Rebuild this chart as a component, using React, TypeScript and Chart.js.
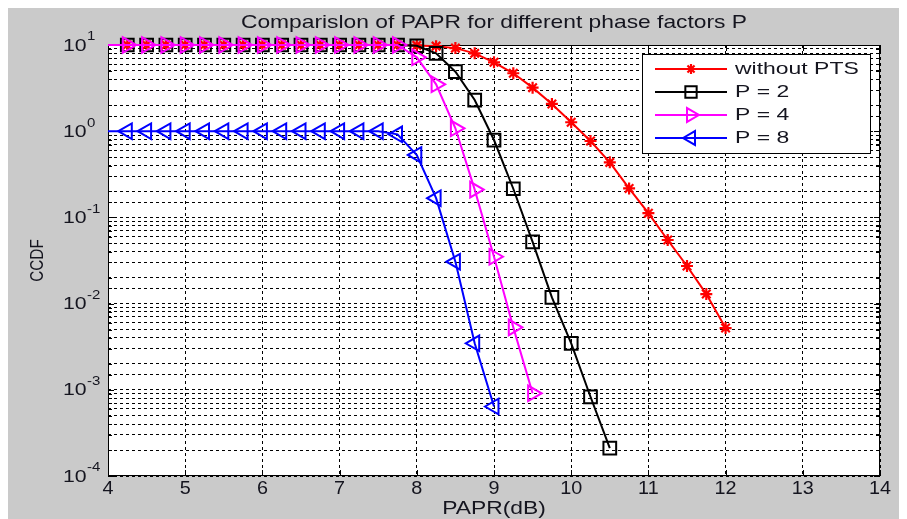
import React, { useEffect, useRef } from 'react';
import { Chart, registerables } from 'chart.js';
import { drawPoint } from 'chart.js/helpers';

Chart.register(...registerables);

// ---- data ----
const paprDb = [3.75, 4.25, 4.5, 4.75, 5, 5.25, 5.5, 5.75, 6, 6.25, 6.5, 6.75, 7, 7.25, 7.5, 7.75, 8, 8.25, 8.5, 8.75, 9, 9.25, 9.5, 9.75, 10, 10.25, 10.5, 10.75, 11, 11.25, 11.5, 11.75, 12];

const ccdfWithoutPts = [10, 10, 10, 10, 10, 10, 10, 10, 10, 10, 10, 10, 10, 10, 10, 10, 9.9, 9.7, 9.2, 8.0, 6.3, 4.7, 3.2, 2.07, 1.27, 0.77, 0.435, 0.217, 0.112, 0.0547, 0.0273, 0.0129, 0.0052];
const ccdfP2 = [10, 10, 10, 10, 10, 10, 10, 10, 10, 10, 10, 10, 10, 10, 10, 10, 9.8, 8.0, 4.9, 2.3, 0.79, 0.215, 0.052, 0.0118, 0.00346, 0.00083, 0.00021];
const ccdfP4 = [10, 10, 10, 10, 10, 10, 10, 10, 10, 10, 10, 10, 10, 10, 10, 10, 7.2, 3.5, 1.08, 0.21, 0.035, 0.0053, 0.00091];
const ccdfP8 = [1, 1, 1, 1, 1, 1, 1, 1, 1, 1, 1, 1, 1, 1, 1, 0.92, 0.53, 0.167, 0.0306, 0.00346, 0.00064];

const seriesLabels = ['without PTS', 'P = 2', 'P = 4', 'P = 8'];
const xTickValues = [4, 5, 6, 7, 8, 9, 10, 11, 12, 13, 14];
const yDecadeValues = [10, 1, 0.1, 0.01, 0.001, 0.0001];
const yDecadeExponents = ['1', '0', '-1', '-2', '-3', '-4'];

const titleText = 'Comparislon of PAPR for different phase factors P';
const xTitle = 'PAPR(dB)';
const yTitle = 'CCDF';

// ---- styles ----
const FONT = '"Liberation Sans", Arial, sans-serif';
const TEXT_COLOR = '#15151f';
const FIG_BG = '#cacaca';

const styles = [
  { color: '#ff0000', pointStyle: 'star', radius: 6, rotation: 0, fill: '#ff0000', legendRadius: 5, pbw: 2.2 },
  { color: '#000000', pointStyle: 'rect', radius: 9, rotation: 0, fill: 'rgba(0,0,0,0)', legendRadius: 8, pbw: 2 },
  { color: '#ff00ff', pointStyle: 'triangle', radius: 9, rotation: 90, fill: 'rgba(0,0,0,0)', legendRadius: 8, pbw: 2 },
  { color: '#0000ff', pointStyle: 'triangle', radius: 9, rotation: -90, fill: 'rgba(0,0,0,0)', legendRadius: 8, pbw: 2 },
];

function toPoints(values: number[]) {
  return values.map((v, i) => ({ x: paprDb[i], y: v }));
}

function drawText(ctx: CanvasRenderingContext2D, text: string, x: number, y: number, size: number, align: CanvasTextAlign, sx: number) {
  ctx.save();
  ctx.font = `${size}px ${FONT}`;
  ctx.fillStyle = TEXT_COLOR;
  ctx.textBaseline = 'middle';
  ctx.textAlign = align;
  ctx.translate(x, y);
  ctx.scale(sx, 1);
  ctx.fillText(text, 0, 0);
  ctx.restore();
}

const matlabPlugin = {
  id: 'matlabLook',
  beforeDraw(chart: any) {
    const { ctx, chartArea: ca, width, height } = chart;
    ctx.save();
    ctx.fillStyle = FIG_BG;
    ctx.fillRect(0, 0, width, height);
    ctx.fillStyle = '#ffffff';
    ctx.fillRect(ca.left, ca.top, ca.right - ca.left, ca.bottom - ca.top);
    ctx.restore();
  },
  beforeDatasetsDraw(chart: any) {
    const { ctx, chartArea: ca } = chart;
    const xs = chart.scales.x;
    const ys = chart.scales.y;
    ctx.save();
    ctx.strokeStyle = '#000';
    ctx.lineWidth = 1;
    ctx.setLineDash([]);
    // frame
    ctx.strokeRect(Math.round(ca.left) + 0.5, Math.round(ca.top) + 0.5, Math.round(ca.right - ca.left) - 1, Math.round(ca.bottom - ca.top) - 1);
    // inner ticks x
    ctx.beginPath();
    xs.ticks.forEach((t: any) => {
      const px = Math.round(xs.getPixelForValue(t.value)) + 0.5;
      ctx.moveTo(px, ca.bottom); ctx.lineTo(px, ca.bottom - 6);
      ctx.moveTo(px, ca.top); ctx.lineTo(px, ca.top + 6);
    });
    // inner ticks y
    ys.ticks.forEach((t: any) => {
      const py = Math.round(ys.getPixelForValue(t.value)) + 0.5;
      const lg = Math.log10(t.value);
      const major = Math.abs(lg - Math.round(lg)) < 1e-6;
      const len = major ? 6 : 4;
      ctx.moveTo(ca.left, py); ctx.lineTo(ca.left + len, py);
      ctx.moveTo(ca.right, py); ctx.lineTo(ca.right - len, py);
    });
    ctx.stroke();
    ctx.restore();

    // texts
    xTickValues.forEach((v) => {
      drawText(ctx, String(v), xs.getPixelForValue(v), ca.bottom + 13, 18, 'center', 1.1);
    });
    yDecadeValues.forEach((v, i) => {
      const py = ys.getPixelForValue(v);
      const baseX = ca.left - 45;
      drawText(ctx, '10', baseX, py + 1, 17, 'left', 1.25);
      drawText(ctx, yDecadeExponents[i], baseX + 24, py - 8, 12, 'left', 1.25);
    });
    const cx = (ca.left + ca.right) / 2;
    drawText(ctx, titleText, cx, ca.top - 22, 19, 'center', 1.2);
    drawText(ctx, xTitle, cx, ca.bottom + 33, 18, 'center', 1.27);
    ctx.save();
    ctx.translate(ca.left - 70, (ca.top + ca.bottom) / 2);
    ctx.rotate(-Math.PI / 2);
    drawText(ctx, yTitle, 0, 0, 18, 'center', 0.85);
    ctx.restore();
  },
  afterDatasetsDraw(chart: any) {
    const { ctx, chartArea: ca } = chart;
    const boxR = ca.right - 10;
    const boxL = boxR - 228;
    const boxT = ca.top + 9;
    const boxB = boxT + 99;
    ctx.save();
    ctx.fillStyle = '#ffffff';
    ctx.fillRect(boxL, boxT, boxR - boxL, boxB - boxT);
    ctx.strokeStyle = '#000';
    ctx.lineWidth = 1;
    ctx.strokeRect(Math.round(boxL) + 0.5, Math.round(boxT) + 0.5, boxR - boxL, boxB - boxT);
    seriesLabels.forEach((label, i) => {
      const st = styles[i];
      const y = boxT + 15 + i * 23;
      const x0 = boxL + 13;
      const x1 = boxL + 85;
      ctx.strokeStyle = st.color;
      ctx.lineWidth = 2;
      ctx.beginPath();
      ctx.moveTo(x0, y); ctx.lineTo(x1, y);
      ctx.stroke();
      ctx.fillStyle = st.fill;
      ctx.strokeStyle = st.color;
      ctx.lineWidth = st.pbw;
      drawPoint(ctx, { pointStyle: st.pointStyle as any, rotation: st.rotation, radius: st.legendRadius, borderWidth: st.pbw }, (x0 + x1) / 2, y);
      drawText(ctx, label, boxL + 93, y, 17, 'left', 1.35);
    });
    ctx.restore();
  },
};

export default function App() {
  const canvasRef = useRef<HTMLCanvasElement | null>(null);

  useEffect(() => {
    const canvas = canvasRef.current;
    if (!canvas) return;
    const allValues = [ccdfWithoutPts, ccdfP2, ccdfP4, ccdfP8];
    const orders = [4, 3, 2, 1];
    const datasets = allValues.map((vals, i) => {
      const st = styles[i];
      return {
        label: seriesLabels[i],
        data: toPoints(vals),
        borderColor: st.color,
        backgroundColor: st.color,
        borderWidth: 2,
        pointStyle: st.pointStyle,
        pointRadius: st.radius,
        pointHoverRadius: st.radius,
        pointBorderWidth: st.pbw,
        pointBorderColor: st.color,
        pointBackgroundColor: st.fill,
        pointRotation: st.rotation,
        tension: 0,
        fill: false,
        order: orders[i],
        clip: { left: 0, top: false, right: false, bottom: false },
      };
    });

    const gridCommon = { color: '#000000', lineWidth: 1, drawTicks: false };
    const chart = new Chart(canvas, {
      type: 'line',
      data: { datasets: datasets as any },
      options: {
        responsive: false,
        animation: false,
        devicePixelRatio: 1,
        layout: { padding: { left: 100, right: 19, top: 37, bottom: 43 } },
        plugins: {
          legend: { display: false },
          tooltip: { enabled: false },
          title: { display: false },
        },
        scales: {
          x: {
            type: 'linear',
            min: 4,
            max: 14,
            ticks: { display: false, stepSize: 1, autoSkip: false },
            grid: gridCommon,
            border: { display: false, dash: [3, 3] },
          },
          y: {
            type: 'logarithmic',
            min: 0.0001,
            max: 10,
            ticks: { display: false, autoSkip: false },
            grid: gridCommon,
            border: { display: false, dash: [3, 3] },
          },
        },
      } as any,
      plugins: [matlabPlugin as any],
    });
    return () => chart.destroy();
  }, []);

  return (
    <div style={{ width: 891, height: 511 }}>
      <canvas ref={canvasRef} width={891} height={511} style={{ display: 'block' }} />
    </div>
  );
}
